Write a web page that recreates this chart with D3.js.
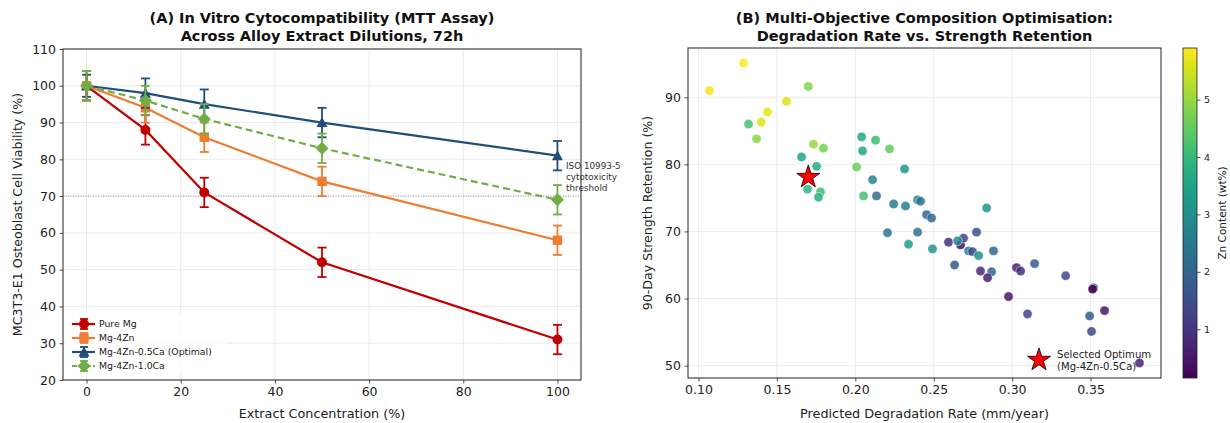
<!DOCTYPE html>
<html>
<head>
<meta charset="utf-8">
<script src="https://cdn.jsdelivr.net/npm/d3@7"></script>
<style>
  body { margin: 0; background: #fff; }
  text { font-family: "DejaVu Sans", sans-serif; }
</style>
</head>
<body>
<div id="chart"></div>
<script>
// ---- panel A data: MTT viability (%) vs extract concentration (%)
const concentrations = [0, 12.5, 25, 50, 100];
const alloyNames = ["Pure Mg", "Mg-4Zn", "Mg-4Zn-0.5Ca (Optimal)", "Mg-4Zn-1.0Ca"];
const pureMg = [100, 88, 71, 52, 31];
const mg4Zn = [100, 94, 86, 74, 58];
const mg4Zn05Ca = [100, 98, 95, 90, 81];
const mg4Zn10Ca = [100, 96, 91, 83, 69];
const pureMgErr = [4, 4, 4, 4, 4];
const mg4ZnErr = [4, 4, 4, 4, 4];
const mg4Zn05CaErr = [3, 4, 4, 4, 4];
const mg4Zn10CaErr = [4, 4, 4, 4, 4];
const isoThreshold = 70;
const xTicksA = [0, 20, 40, 60, 80, 100];
const yTicksA = [20, 30, 40, 50, 60, 70, 80, 90, 100, 110];

// ---- panel B data: candidate compositions
const degRate = [0.107, 0.1287, 0.1319, 0.137, 0.140, 0.144, 0.156, 0.170, 0.1733, 0.1797,
  0.1657, 0.1753, 0.1695, 0.1778, 0.1765, 0.204, 0.2129, 0.2046, 0.2218, 0.2008,
  0.2314, 0.211, 0.2052, 0.2135, 0.2244, 0.232, 0.2397, 0.2416, 0.2454, 0.2486,
  0.2837, 0.2205, 0.2397, 0.2339, 0.2492, 0.2594, 0.2671, 0.269, 0.2652, 0.2773,
  0.2722, 0.2747, 0.2786, 0.2881, 0.2633, 0.2798, 0.2869, 0.2843, 0.3028, 0.3054,
  0.3143, 0.3341, 0.2977, 0.3098, 0.3519, 0.3513, 0.3589, 0.3494, 0.3506, 0.3812];
const strengthRet = [91.0, 95.1, 86.0, 83.8, 86.3, 87.8, 89.4, 91.6, 83.0, 82.4,
  81.1, 79.7, 76.3, 75.9, 75.1, 84.1, 83.6, 82.0, 82.3, 79.6,
  79.3, 77.7, 75.3, 75.3, 74.1, 73.8, 74.7, 74.5, 72.5, 72.0,
  73.5, 69.8, 69.9, 68.1, 67.4, 68.4, 68.0, 69.0, 68.6, 69.9,
  67.1, 67.0, 66.4, 67.1, 65.0, 64.1, 64.0, 63.1, 64.6, 64.1,
  65.2, 63.4, 60.3, 57.7, 61.6, 61.4, 58.2, 57.4, 55.1, 50.4];
const znContent = [5.8, 5.9, 4.2, 4.9, 5.6, 5.7, 5.6, 4.8, 5.0, 4.7,
  3.5, 3.7, 3.9, 4.1, 3.8, 3.6, 4.1, 3.6, 4.5, 4.6,
  3.2, 2.8, 4.2, 2.2, 2.5, 2.6, 2.7, 2.4, 2.0, 2.0,
  3.2, 2.4, 2.2, 3.3, 3.1, 0.9, 0.4, 1.3, 2.9, 1.5,
  2.6, 1.4, 3.0, 2.1, 1.7, 0.8, 2.0, 0.6, 0.6, 0.9,
  1.7, 1.4, 0.5, 1.3, 1.5, 0.15, 0.5, 1.8, 1.4, 0.7];
const optimum = {rate: 0.170, retention: 78.1};
const xTicksB = [0.10, 0.15, 0.20, 0.25, 0.30, 0.35];
const yTicksB = [50, 60, 70, 80, 90];
const cbarTicks = [1, 2, 3, 4, 5];

const width = 1230, height = 423;
const svg = d3.select("#chart").append("svg")
    .attr("width", width)
    .attr("height", height);

function styleAxis(g, size) {
    g.select(".domain").remove();
    g.selectAll("text").attr("font-size", size).attr("fill", "#222")
        .attr("font-family", "DejaVu Sans, sans-serif");
    g.selectAll("line").attr("stroke", "#222").attr("stroke-width", 0.8);
}

function markerPath(type, r) {
    if (type == "circle") return d3.symbol(d3.symbolCircle, Math.PI * r * r)();
    if (type == "square") return `M${-r},${-r}H${r}V${r}H${-r}Z`;
    if (type == "triangle") return `M0,${-r * 1.1}L${r * 1.1},${r * 0.9}L${-r * 1.1},${r * 0.9}Z`;
    return `M0,${-r * 1.3}L${r * 1.3},0L0,${r * 1.3}L${-r * 1.3},0Z`;
}

// ================= panel A =================
var boxA = {left: 63, right: 581, top: 49, bottom: 380};
var xA = d3.scaleLinear().domain([-5, 105]).range([boxA.left, boxA.right]);
var yA = d3.scaleLinear().domain([20, 110]).range([boxA.bottom, boxA.top]);

var gA = svg.append("g");
gA.selectAll(".gx").data(xTicksA).enter().append("line")
    .attr("x1", d => xA(d)).attr("x2", d => xA(d))
    .attr("y1", boxA.top).attr("y2", boxA.bottom)
    .attr("stroke", "#e6e6e6").attr("stroke-width", 0.8);
gA.selectAll(".gy").data(yTicksA).enter().append("line")
    .attr("x1", boxA.left).attr("x2", boxA.right)
    .attr("y1", d => yA(d)).attr("y2", d => yA(d))
    .attr("stroke", "#e6e6e6").attr("stroke-width", 0.8);

// ISO threshold
gA.append("line")
    .attr("x1", boxA.left).attr("x2", boxA.right)
    .attr("y1", yA(isoThreshold)).attr("y2", yA(isoThreshold))
    .attr("stroke", "#888").attr("stroke-width", 0.8)
    .attr("stroke-dasharray", "1,1.5");

var seriesA = [
    {name: alloyNames[0], values: pureMg, err: pureMgErr, color: "#C00000", marker: "circle", dash: null},
    {name: alloyNames[1], values: mg4Zn, err: mg4ZnErr, color: "#ED7D31", marker: "square", dash: null},
    {name: alloyNames[2], values: mg4Zn05Ca, err: mg4Zn05CaErr, color: "#1F4E79", marker: "triangle", dash: null},
    {name: alloyNames[3], values: mg4Zn10Ca, err: mg4Zn10CaErr, color: "#70AD47", marker: "diamond", dash: "7,4"}
];
var markerSize = {circle: 5, square: 4.7, triangle: 5, diamond: 5};

var line = d3.line()
    .x(function (d, i) { return xA(concentrations[i]); })
    .y(function (d) { return yA(d); });

seriesA.forEach(function (s) {
    var g = gA.append("g");
    s.values.forEach(function (v, i) {
        var x = xA(concentrations[i]);
        g.append("line").attr("x1", x).attr("x2", x)
            .attr("y1", yA(v - s.err[i])).attr("y2", yA(v + s.err[i]))
            .attr("stroke", s.color).attr("stroke-width", 1.8);
        [v - s.err[i], v + s.err[i]].forEach(function (e) {
            g.append("line").attr("x1", x - 4.5).attr("x2", x + 4.5)
                .attr("y1", yA(e)).attr("y2", yA(e))
                .attr("stroke", s.color).attr("stroke-width", 1.8);
        });
    });
    g.append("path").datum(s.values)
        .attr("d", line)
        .attr("fill", "none")
        .attr("stroke", s.color)
        .attr("stroke-width", 2.2)
        .attr("stroke-dasharray", s.dash);
    g.selectAll(".m").data(s.values).enter().append("path")
        .attr("d", markerPath(s.marker, markerSize[s.marker]))
        .attr("transform", function (d, i) { return "translate(" + xA(concentrations[i]) + "," + yA(d) + ")"; })
        .attr("fill", s.color);
});

gA.append("rect")
    .attr("x", boxA.left).attr("y", boxA.top)
    .attr("width", boxA.right - boxA.left).attr("height", boxA.bottom - boxA.top)
    .attr("fill", "none").attr("stroke", "#222").attr("stroke-width", 1);

gA.append("g").attr("transform", "translate(0," + boxA.bottom + ")")
    .call(d3.axisBottom(xA).tickValues(xTicksA).tickSize(3.5).tickPadding(3.5))
    .call(styleAxis, 12.5);
gA.append("g").attr("transform", "translate(" + boxA.left + ",0)")
    .call(d3.axisLeft(yA).tickValues(yTicksA).tickSize(3.5).tickPadding(3.5))
    .call(styleAxis, 12.5);

// threshold label
["ISO 10993-5", "cytotoxicity", "threshold"].forEach(function (t, i) {
    gA.append("text").attr("x", 566).attr("y", 169 + i * 11)
        .attr("font-size", 8.8).attr("fill", "#333").text(t);
});

// legend
var legA = gA.append("g").attr("transform", "translate(72,324)");
legA.append("rect").attr("x", -5).attr("y", -9).attr("width", 160).attr("height", 57)
    .attr("fill", "#fff").attr("fill-opacity", 0.8);
seriesA.forEach(function (s, i) {
    var row = legA.append("g").attr("transform", "translate(0," + i * 14 + ")");
    row.append("line").attr("x1", 12).attr("x2", 12).attr("y1", -5).attr("y2", 5)
        .attr("stroke", s.color).attr("stroke-width", 1.8);
    [-5, 5].forEach(function (e) {
        row.append("line").attr("x1", 8).attr("x2", 16).attr("y1", e).attr("y2", e)
            .attr("stroke", s.color).attr("stroke-width", 1.8);
    });
    row.append("line").attr("x1", 0).attr("x2", 23).attr("y1", 0).attr("y2", 0)
        .attr("stroke", s.color).attr("stroke-width", 2.2)
        .attr("stroke-dasharray", s.dash ? "5,2" : null);
    row.append("path").attr("d", markerPath(s.marker, markerSize[s.marker]))
        .attr("transform", "translate(12,0)").attr("fill", s.color);
    row.append("text").attr("x", 27).attr("y", 3.3).attr("font-size", 9.3)
        .attr("fill", "#222").text(s.name);
});

// titles and labels
svg.append("text").attr("x", (boxA.left + boxA.right) / 2).attr("y", 23)
    .attr("text-anchor", "middle").attr("font-size", 14.5).attr("font-weight", "bold")
    .attr("fill", "#111").text("(A) In Vitro Cytocompatibility (MTT Assay)");
svg.append("text").attr("x", (boxA.left + boxA.right) / 2).attr("y", 41)
    .attr("text-anchor", "middle").attr("font-size", 14.5).attr("font-weight", "bold")
    .attr("fill", "#111").text("Across Alloy Extract Dilutions, 72h");
svg.append("text").attr("x", (boxA.left + boxA.right) / 2).attr("y", 418)
    .attr("text-anchor", "middle").attr("font-size", 12.8).attr("fill", "#222")
    .text("Extract Concentration (%)");
svg.append("text").attr("transform", "translate(22," + (boxA.top + boxA.bottom) / 2 + ") rotate(-90)")
    .attr("text-anchor", "middle").attr("font-size", 12.6).attr("fill", "#222")
    .text("MC3T3-E1 Osteoblast Cell Viability (%)");

// ================= panel B =================
var boxB = {left: 688, right: 1161, top: 48, bottom: 378};
var xExt = d3.extent(degRate), yExt = d3.extent(strengthRet);
var xPad = (xExt[1] - xExt[0]) * 0.05, yPad = (yExt[1] - yExt[0]) * 0.05;
var xB = d3.scaleLinear().domain([xExt[0] - xPad, xExt[1] + xPad]).range([boxB.left, boxB.right]);
var yB = d3.scaleLinear().domain([yExt[0] - yPad, yExt[1] + yPad]).range([boxB.bottom, boxB.top]);
var znExt = d3.extent(znContent);
var color = d3.scaleSequential(d3.interpolateViridis).domain(znExt);

var gB = svg.append("g");
gB.selectAll(".gx").data(xTicksB).enter().append("line")
    .attr("x1", d => xB(d)).attr("x2", d => xB(d))
    .attr("y1", boxB.top).attr("y2", boxB.bottom)
    .attr("stroke", "#e6e6e6").attr("stroke-width", 0.8);
gB.selectAll(".gy").data(yTicksB).enter().append("line")
    .attr("x1", boxB.left).attr("x2", boxB.right)
    .attr("y1", d => yB(d)).attr("y2", d => yB(d))
    .attr("stroke", "#e6e6e6").attr("stroke-width", 0.8);

gB.selectAll("circle").data(degRate).enter().append("circle")
    .attr("cx", d => xB(d))
    .attr("cy", (d, i) => yB(strengthRet[i]))
    .attr("r", 4.7)
    .attr("fill", (d, i) => color(znContent[i]))
    .attr("fill-opacity", 0.85)
    .attr("stroke", "#fff").attr("stroke-width", 0.5);

var star = d3.symbol(d3.symbolStar, 165)();
gB.append("path").attr("d", star)
    .attr("transform", "translate(" + xB(optimum.rate) + "," + yB(optimum.retention) + ")")
    .attr("fill", "#ff0000").attr("stroke", "#000").attr("stroke-width", 0.8);

// star legend
gB.append("path").attr("d", star).attr("transform", "translate(1039,360)")
    .attr("fill", "#ff0000").attr("stroke", "#000").attr("stroke-width", 0.8);
gB.append("text").attr("x", 1057).attr("y", 358).attr("font-size", 10.1).attr("fill", "#222")
    .text("Selected Optimum");
gB.append("text").attr("x", 1057).attr("y", 370).attr("font-size", 10.1).attr("fill", "#222")
    .text("(Mg-4Zn-0.5Ca)");

gB.append("rect")
    .attr("x", boxB.left).attr("y", boxB.top)
    .attr("width", boxB.right - boxB.left).attr("height", boxB.bottom - boxB.top)
    .attr("fill", "none").attr("stroke", "#222").attr("stroke-width", 1);

gB.append("g").attr("transform", "translate(0," + boxB.bottom + ")")
    .call(d3.axisBottom(xB).tickValues(xTicksB).tickFormat(d3.format(".2f")).tickSize(3.5).tickPadding(3.5))
    .call(styleAxis, 12.5);
gB.append("g").attr("transform", "translate(" + boxB.left + ",0)")
    .call(d3.axisLeft(yB).tickValues(yTicksB).tickSize(3.5).tickPadding(3.5))
    .call(styleAxis, 12.5);

svg.append("text").attr("x", (boxB.left + boxB.right) / 2).attr("y", 23)
    .attr("text-anchor", "middle").attr("font-size", 14.5).attr("font-weight", "bold")
    .attr("fill", "#111").text("(B) Multi-Objective Composition Optimisation:");
svg.append("text").attr("x", (boxB.left + boxB.right) / 2).attr("y", 41)
    .attr("text-anchor", "middle").attr("font-size", 14.5).attr("font-weight", "bold")
    .attr("fill", "#111").text("Degradation Rate vs. Strength Retention");
svg.append("text").attr("x", (boxB.left + boxB.right) / 2).attr("y", 418)
    .attr("text-anchor", "middle").attr("font-size", 12.8).attr("fill", "#222")
    .text("Predicted Degradation Rate (mm/year)");
svg.append("text").attr("transform", "translate(652," + (boxB.top + boxB.bottom) / 2 + ") rotate(-90)")
    .attr("text-anchor", "middle").attr("font-size", 12.6).attr("fill", "#222")
    .text("90-Day Strength Retention (%)");

// colorbar
var cb = {x: 1183, w: 14, top: 48, bottom: 378};
var grad = svg.append("defs").append("linearGradient").attr("id", "viridis")
    .attr("x1", "0").attr("y1", "1").attr("x2", "0").attr("y2", "0");
d3.range(0, 1.0001, 0.05).forEach(function (t) {
    grad.append("stop").attr("offset", t).attr("stop-color", d3.interpolateViridis(t));
});
svg.append("rect").attr("x", cb.x).attr("y", cb.top).attr("width", cb.w)
    .attr("height", cb.bottom - cb.top).attr("fill", "url(#viridis)")
    .attr("stroke", "#222").attr("stroke-width", 0.8);
var yC = d3.scaleLinear().domain(znExt).range([cb.bottom, cb.top]);
svg.append("g").attr("transform", "translate(" + (cb.x + cb.w) + ",0)")
    .call(d3.axisRight(yC).tickValues(cbarTicks).tickFormat(d3.format("d")).tickSize(3.5).tickPadding(3.5))
    .call(styleAxis, 9.5);
svg.append("text").attr("transform", "translate(1222," + (cb.top + cb.bottom) / 2 + ") rotate(-90)")
    .attr("text-anchor", "middle").attr("dy", "0.35em").attr("font-size", 10.5).attr("fill", "#222")
    .text("Zn Content (wt%)");
</script>
</body>
</html>
